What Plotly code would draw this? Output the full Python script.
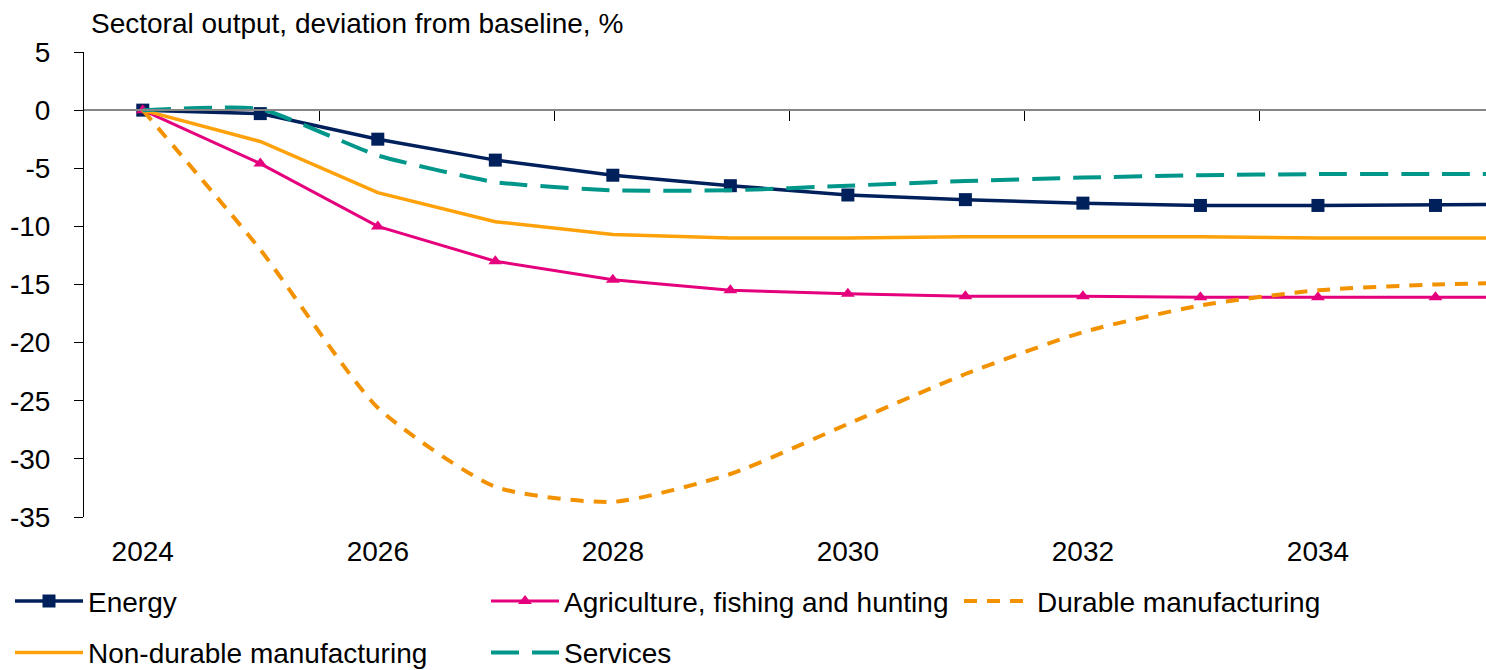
import plotly.graph_objects as go

years = list(range(2024, 2037))
energy = [0, -0.3, -2.5, -4.3, -5.6, -6.5, -7.3, -7.7, -8.0, -8.2, -8.2, -8.2, -8.1]
agriculture = [0, -4.6, -10.0, -13.0, -14.6, -15.5, -15.8, -16.0, -16.0, -16.1, -16.1, -16.1, -16.1]
durable = [0, -12.0, -25.6, -32.4, -33.7, -31.3, -27.0, -22.7, -19.1, -16.8, -15.5, -15.0, -14.8]
nondurable = [0, -2.7, -7.1, -9.6, -10.7, -11.0, -11.0, -10.9, -10.9, -10.9, -11.0, -11.0, -11.0]
services = [0, 0.1, -3.9, -6.2, -6.9, -6.9, -6.5, -6.1, -5.8, -5.6, -5.5, -5.5, -5.5]

label_years = [2024, 2026, 2028, 2030, 2032, 2034]
boundary_ticks = [2025.5, 2027.5, 2029.5, 2031.5, 2033.5, 2035.5]
y_ticks = [-35, -30, -25, -20, -15, -10, -5, 0, 5]
y_tick_text = ["-35", "-30", "-25", "-20", "-15", "-10", "-5", "0", "5"]

NAVY = "#00205B"
PINK = "#E5007D"
ORANGE_DARK = "#F39200"
ORANGE = "#FFA10A"
TEAL = "#00968A"

fig = go.Figure()

fig.add_trace(go.Scatter(
    x=years, y=energy, name="Energy", mode="lines+markers",
    line=dict(color=NAVY, width=3.5),
    marker=dict(symbol="square", size=13, color=NAVY),
    legend="legend", legendgroup="e"))
fig.add_trace(go.Scatter(
    x=years, y=agriculture, name="Agriculture, fishing and hunting", mode="lines+markers",
    line=dict(color=PINK, width=3),
    marker=dict(symbol="triangle-up", size=12, color=PINK),
    legend="legend2", legendgroup="a"))
fig.add_trace(go.Scatter(
    x=years, y=durable, name="Durable manufacturing", mode="lines",
    line=dict(color=ORANGE_DARK, width=4, dash="13px,10px", shape="spline", smoothing=0.6),
    legend="legend3", legendgroup="d"))
fig.add_trace(go.Scatter(
    x=years, y=nondurable, name="Non-durable manufacturing", mode="lines",
    line=dict(color=ORANGE, width=3.5),
    legend="legend", legendgroup="n"))
fig.add_trace(go.Scatter(
    x=years, y=services, name="Services", mode="lines",
    line=dict(color=TEAL, width=4, dash="28px,13px", shape="spline", smoothing=0.45),
    legend="legend2", legendgroup="s"))

# helper trace so the zero-line axis is drawn
fig.add_trace(go.Scatter(
    x=years[:1], y=[0], xaxis="x2", yaxis="y", mode="markers",
    marker=dict(opacity=0), showlegend=False, hoverinfo="skip"))

xr = [2023.5, 2035.43]
legend_common = dict(orientation="v", xanchor="left", yanchor="top",
                     bgcolor="rgba(0,0,0,0)", itemwidth=68, tracegroupgap=12,
                     font=dict(family="Liberation Sans, Arial, sans-serif", size=28, color="black"))
leg_y = -0.1277

fig.update_layout(
    width=1486, height=670,
    margin=dict(l=84, r=0, t=52, b=153, autoexpand=False),
    plot_bgcolor="white", paper_bgcolor="white",
    font=dict(family="Liberation Sans, Arial, sans-serif", size=28, color="black"),
    xaxis=dict(range=xr, tickvals=label_years, ticktext=[str(v) for v in label_years],
               showline=False, ticks="", showgrid=False, zeroline=False,
               ticklabelstandoff=15),
    xaxis2=dict(range=xr, overlaying="x", anchor="free", position=0.875, side="bottom",
                showline=True, linecolor="#868686", linewidth=1.5,
                ticks="outside", ticklen=10, tickcolor="black", tickwidth=1,
                tickvals=boundary_ticks, showticklabels=False,
                showgrid=False, zeroline=False),
    yaxis=dict(range=[-35, 5], tickvals=y_ticks, ticktext=y_tick_text, showline=True,
               linecolor="black", linewidth=1, ticks="outside", ticklen=9, tickcolor="black",
               showgrid=False, zeroline=False, ticklabelstandoff=18),
    legend=dict(x=(10 - 84) / 1402, y=leg_y, **legend_common),
    legend2=dict(x=(486 - 84) / 1402, y=leg_y, **legend_common),
    legend3=dict(x=(959 - 84) / 1402, y=leg_y, **legend_common),
    annotations=[dict(text="Sectoral output, deviation from baseline, %",
                      xref="paper", yref="paper", x=(89 - 84) / 1402, y=1.062,
                      xanchor="left", yanchor="middle", showarrow=False,
                      font=dict(size=28, color="black"))],
    showlegend=True,
)

fig.write_html("out.html")
